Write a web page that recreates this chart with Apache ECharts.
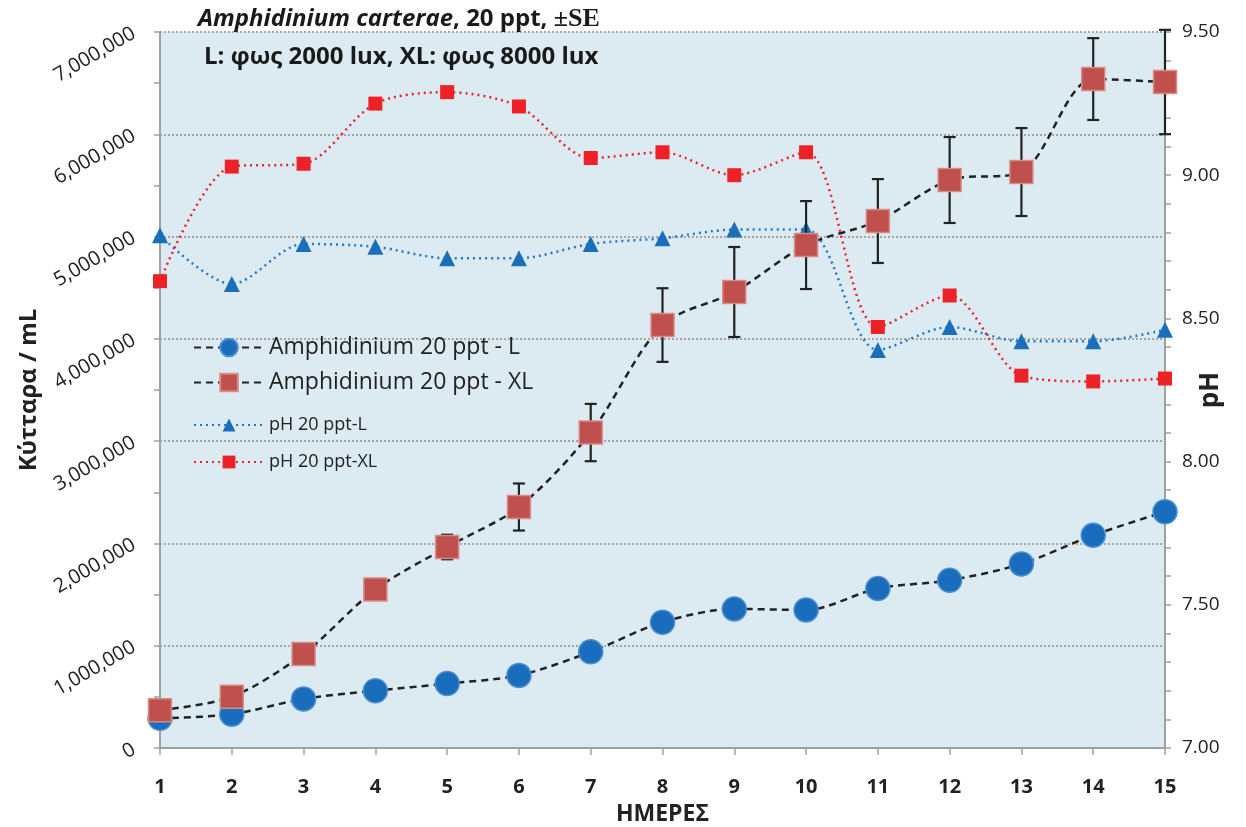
<!DOCTYPE html>
<html>
<head>
<meta charset="utf-8">
<script src="https://cdn.jsdelivr.net/npm/echarts@6/dist/echarts.min.js"></script>
<style>html,body{margin:0;padding:0;background:#fff}#c{width:1246px;height:827px}</style>
</head>
<body>
<div id="c"></div>
<script>
const days = ['1','2','3','4','5','6','7','8','9','10','11','12','13','14','15'];
const cellsL = [290000, 330000, 480000, 560000, 630000, 710000, 940000, 1230000, 1360000, 1350000, 1560000, 1640000, 1800000, 2080000, 2310000];
const cellsXL = [370000, 500000, 920000, 1550000, 1965000, 2356000, 3084000, 4135000, 4458000, 4917000, 5152000, 5553000, 5631000, 6540000, 6511000];
const errXL = [20000, 30000, 40000, 50000, 120000, 230000, 280000, 360000, 440000, 430000, 410000, 420000, 430000, 400000, 510000];
const phL = [8.79, 8.62, 8.76, 8.75, 8.71, 8.71, 8.76, 8.78, 8.81, 8.81, 8.39, 8.47, 8.42, 8.42, 8.46];
const phXL = [8.63, 9.03, 9.04, 9.25, 9.29, 9.24, 9.06, 9.08, 9.00, 9.08, 8.47, 8.58, 8.30, 8.28, 8.29];
const cellTicks = [0, 7000000, 1000000];
const phTicks = [7.0, 9.5, 0.5];

const FONT = '"Open Sans", "Noto Sans", sans-serif';
const chart = echarts.init(document.getElementById('c'), null, {renderer: 'canvas'});

const errData = errXL.map((e, i) => [i, cellsXL[i], e]);

chart.setOption({
  backgroundColor: '#ffffff',
  animation: false,
  textStyle: {fontFamily: FONT},
  title: [
    {
      left: 193, top: 1,
      text: '{i|Amphidinium carterae}{b|, 20 ppt, }{s|±SE}',
      textStyle: {
        rich: {
          i: {fontFamily: FONT, fontStyle: 'italic', fontWeight: 'bold', fontSize: 24, color: '#1a1a1a'},
          b: {fontFamily: FONT, fontWeight: 'bold', fontSize: 24, color: '#1a1a1a'},
          s: {fontFamily: '"Liberation Serif", "DejaVu Serif", serif', fontWeight: 'bold', fontSize: 26, color: '#1a1a1a'}
        }
      }
    },
    {
      left: 199, top: 40,
      text: 'L: φως 2000 lux, XL: φως 8000 lux',
      textStyle: {fontFamily: FONT, fontWeight: 'bold', fontSize: 24, color: '#1a1a1a'}
    }
  ],
  legend: [
    {
      orient: 'vertical', left: 188, top: 331, itemGap: 12,
      itemWidth: 70, itemHeight: 22,
      data: ['Amphidinium 20 ppt - L', 'Amphidinium 20 ppt - XL'],
      textStyle: {fontFamily: FONT, fontSize: 23, color: '#222'}
    },
    {
      orient: 'vertical', left: 188, top: 411, itemGap: 19,
      itemWidth: 70, itemHeight: 16,
      data: ['pH 20 ppt-L', 'pH 20 ppt-XL'],
      textStyle: {fontFamily: FONT, fontSize: 18, color: '#222'}
    }
  ],
  grid: {left: 160, right: 81, top: 32, bottom: 79, show: true, backgroundColor: '#dcebf2', borderWidth: 0,
    outerBoundsMode: 'none', containLabel: false},
  xAxis: {
    type: 'category', data: days, boundaryGap: false,
    name: 'ΗΜΕΡΕΣ', nameLocation: 'middle', nameGap: 55, nameMoveOverlap: false,
    nameTextStyle: {fontFamily: FONT, fontWeight: 'bold', fontSize: 23, color: '#222'},
    axisLine: {lineStyle: {color: '#a0a0a0', width: 2}},
    axisTick: {show: true, alignWithLabel: true, length: 7, lineStyle: {color: '#a0a0a0', width: 1.5}},
    axisLabel: {fontFamily: FONT, fontWeight: 'bold', fontSize: 20, color: '#222', margin: 29},
    splitLine: {show: false}
  },
  yAxis: [
    {
      type: 'value', position: 'left', min: cellTicks[0], max: cellTicks[1], interval: cellTicks[2],
      name: 'Κύτταρα / mL', nameLocation: 'middle', nameGap: 119, nameRotate: 90, nameMoveOverlap: false,
      nameTextStyle: {fontFamily: FONT, fontWeight: 'bold', fontSize: 24, color: '#222'},
      axisLine: {show: true, lineStyle: {color: '#a0a0a0', width: 2}},
      axisTick: {show: true, length: 6, lineStyle: {color: '#a0a0a0', width: 1.5}},
      minorTick: {show: true, splitNumber: 2, length: 6, lineStyle: {color: '#a0a0a0', width: 1.5}},
      axisLabel: {fontFamily: FONT, fontSize: 20, color: '#222', rotate: 30, margin: 26,
        formatter: v => v.toLocaleString('en-US')},
      splitLine: {show: true, lineStyle: {color: '#a6a6a6', type: [2, 2], width: 2}}
    },
    {
      type: 'value', position: 'right', min: phTicks[0], max: phTicks[1], interval: phTicks[2],
      name: 'pH', nameLocation: 'middle', nameGap: 33, nameRotate: 90, nameMoveOverlap: false,
      nameTextStyle: {fontFamily: FONT, fontWeight: 'bold', fontSize: 26, color: '#222'},
      axisLine: {show: true, lineStyle: {color: '#a0a0a0', width: 2}},
      axisTick: {show: true, length: 6, lineStyle: {color: '#a0a0a0', width: 1.5}},
      minorTick: {show: true, splitNumber: 5, length: 6, lineStyle: {color: '#a0a0a0', width: 1.5}},
      axisLabel: {fontFamily: FONT, fontSize: 19, color: '#222', margin: 17, formatter: v => v.toFixed(2)},
      splitLine: {show: false}
    }
  ],
  series: [
    {
      name: 'pH 20 ppt-L', type: 'line', yAxisIndex: 1, data: phL, smooth: 0.3, z: 3,
      symbol: 'triangle', symbolSize: 16,
      itemStyle: {color: '#1a6fba'},
      lineStyle: {color: '#1f78c8', width: 2.5, type: [2, 4]}
    },
    {
      name: 'pH 20 ppt-XL', type: 'line', yAxisIndex: 1, data: phXL, smooth: 0.3, z: 3,
      symbol: 'rect', symbolSize: 14,
      itemStyle: {color: '#ee2226'},
      lineStyle: {color: '#ee2226', width: 2.5, type: [2, 4]}
    },
    {
      name: 'errXL', type: 'custom', yAxisIndex: 0, data: errData, z: 4,
      renderItem: function (params, api) {
        const x = api.value(0), v = api.value(1), e = api.value(2);
        const top = api.coord([x, v + e]);
        const bot = api.coord([x, v - e]);
        const w = 6;
        const st = {stroke: '#222', lineWidth: 2.2};
        return {type: 'group', children: [
          {type: 'line', shape: {x1: top[0], y1: top[1], x2: bot[0], y2: bot[1]}, style: st},
          {type: 'line', shape: {x1: top[0] - w, y1: top[1], x2: top[0] + w, y2: top[1]}, style: st},
          {type: 'line', shape: {x1: bot[0] - w, y1: bot[1], x2: bot[0] + w, y2: bot[1]}, style: st}
        ]};
      }
    },
    {
      name: 'Amphidinium 20 ppt - L', type: 'line', yAxisIndex: 0, data: cellsL, smooth: 0.3, z: 5,
      symbol: 'circle', symbolSize: 24,
      itemStyle: {color: '#1a6cbd', borderColor: '#4a8fd0', borderWidth: 1.5},
      lineStyle: {color: '#222', width: 2.5, type: [7, 5]}
    },
    {
      name: 'Amphidinium 20 ppt - XL', type: 'line', yAxisIndex: 0, data: cellsXL, smooth: 0.3, z: 5,
      symbol: 'rect', symbolSize: 23,
      itemStyle: {color: '#c0504d', borderColor: '#d88a88', borderWidth: 1.5},
      lineStyle: {color: '#222', width: 2.5, type: [7, 5]}
    }
  ]
});
</script>
</body>
</html>
